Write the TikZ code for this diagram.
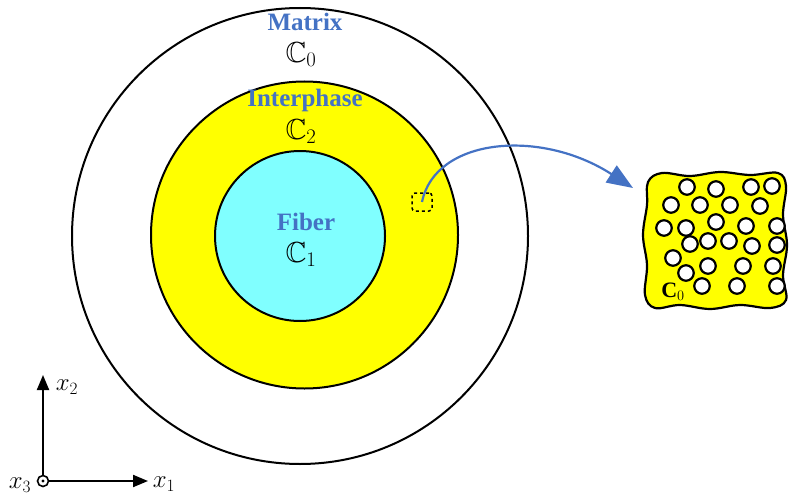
\documentclass[tikz,border=0pt]{standalone}
\usepackage{amssymb}
\usepackage{fontspec}
\setmainfont{Liberation Serif}
\usetikzlibrary{arrows.meta}
\definecolor{lblblue}{RGB}{68,114,196}
\definecolor{fibcyan}{RGB}{128,255,255}
\definecolor{ipyellow}{RGB}{255,255,0}
\tikzset{
  ring/.style={circle, draw=black, line width=2pt, inner sep=0pt},
  phaselabel/.style={text=lblblue, font=\fontsize{25}{28}\selectfont\bfseries, inner sep=0pt},
  modlabel/.style={font=\fontsize{29}{31}\selectfont, inner sep=0pt, anchor=north},
  incl/.style={circle, draw=black, fill=white, line width=2.2pt, minimum size=15.5pt, inner sep=0pt},
  axlabel/.style={font=\fontsize{27}{30}\selectfont, inner sep=0pt},
  axarrow/.style={line width=2pt, -{Triangle[length=15pt,width=12pt]}}
}
\begin{document}
\begin{tikzpicture}[x=1pt,y=-1pt]
\useasboundingbox (0,0) rectangle (794,500);
% circles
\node[ring, minimum size=456pt] (outer) at (300,236) {};
\node[ring, fill=ipyellow, minimum size=307pt] (inter) at (304.5,235) {};
\node[ring, fill=fibcyan, minimum size=170pt] (fiber) at (300,236) {};
% labels
\node[phaselabel] (lmatrix) at (305,22) {Matrix};
\node[modlabel] (cmatrix) at (301,42) {$\mathbb{C}_0$};
\node[phaselabel] (linter) at (305,100) {Interphase};
\node[modlabel] (cinter) at (301,119) {$\mathbb{C}_2$};
\node[phaselabel] (lfiber) at (306,222) {Fiber};
\node[modlabel] (cfiber) at (301,242) {$\mathbb{C}_1$};
% small dashed square
\node[draw=black, dashed, line width=1.5pt, rounded corners=3pt, minimum width=20pt, minimum height=18pt, inner sep=0pt] (sq) at (422,202) {};
% inset blob
\draw[line width=2.2pt, fill=ipyellow] plot[smooth cycle, tension=0.6] coordinates {
 (648,182) (662,173) (690,176) (720,172) (750,175) (778,173) (786,186) (783,215)
 (787,245) (783,275) (786,300) (770,308) (740,305) (710,309) (680,305) (655,308)
 (645,295) (647,265) (643,235) (647,205)};
\coordinate (tip) at (633,188);
% inclusions
\foreach \p [count=\i] in {(687,187),(716,189),(751,187),(772,186),
  (671,205),(700,205),(730,205),(760,206),
  (664,228),(686,228),(716,222),(746,226),(777,226),
  (690,244),(708,241),(729,241),(752,246),(777,245),
  (673,258),(708,266),(743,266),(773,266),
  (686,273),(702,286),(737,286),(777,286)}
  \node[incl] (inc\i) at \p {};
\node[font=\fontsize{22}{24}\selectfont, inner sep=0pt] (cinset) at (673,292) {\textbf{C}$_0$};
% blue arrow
\draw[lblblue, line width=2.2pt, -{Triangle[length=26pt,width=20pt]}] (sq.center) .. controls (435,138) and (540,128) .. (tip);
% axes
\node[circle, draw=black, line width=1.6pt, minimum size=11pt, inner sep=0pt] (orig) at (43,481) {};
\fill (orig.center) circle (1.7pt);
\coordinate (x2end) at (43,375);
\coordinate (x1end) at (148,481);
\draw[axarrow] (orig.north) -- (x2end);
\draw[axarrow] (orig.east) -- (x1end);
\node[axlabel] (lx2) at (67,387) {$x_2$};
\node[axlabel] (lx1) at (164,484) {$x_1$};
\node[axlabel] (lx3) at (20,485) {$x_3$};
\end{tikzpicture}
\end{document}
